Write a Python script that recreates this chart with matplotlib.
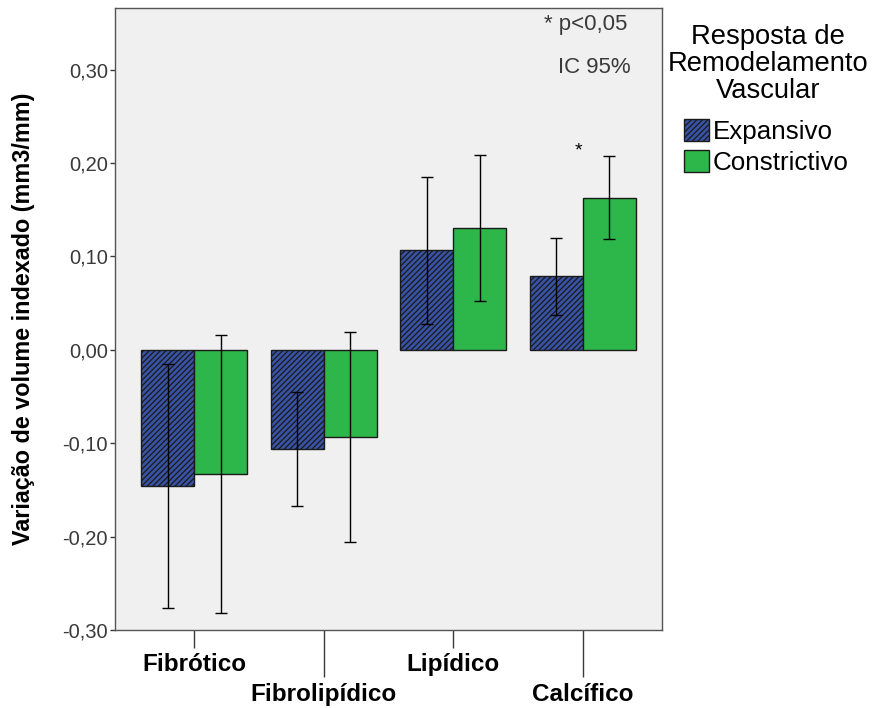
import numpy as np
import matplotlib
matplotlib.use('Agg')
import matplotlib.pyplot as plt
from matplotlib.ticker import FuncFormatter

plt.rcParams['font.family'] = ['Liberation Sans', 'DejaVu Sans']
plt.rcParams['hatch.linewidth'] = 0.9

# mean change with 95% CI, by plaque type and remodelling response
categorias = ['Fibrótico', 'Fibrolipídico', 'Lipídico', 'Calcífico']
grupos = ['Expansivo', 'Constrictivo']
media_exp = [-0.146, -0.106, 0.107, 0.079]
ic_inf_exp = [-0.276, -0.167, 0.028, 0.037]
ic_sup_exp = [-0.015, -0.045, 0.185, 0.120]
media_con = [-0.133, -0.093, 0.130, 0.163]
ic_inf_con = [-0.282, -0.206, 0.052, 0.119]
ic_sup_con = [0.016, 0.019, 0.209, 0.208]
significativo = [False, False, False, True]

cor_exp = '#3853a4'
cor_con = '#2db64a'
fundo = '#f0f0f0'
cinza = '#3a3a3a'

fig = plt.figure(figsize=(8.72, 7.08), dpi=100)
ax = fig.add_axes([0.1319, 0.1102, 0.6273, 0.8785])
ax.set_facecolor(fundo)

x = np.arange(len(categorias))
w = 0.408

def barras(pos, media, inf, sup, cor, hatch, nome):
    media = np.array(media)
    err = [media - np.array(inf), np.array(sup) - media]
    b = ax.bar(pos, media, width=w, color=cor, edgecolor='#1a1a1a',
               linewidth=1.0, hatch=hatch, label=nome, zorder=2)
    ax.errorbar(pos, media, yerr=err, fmt='none', ecolor='black',
                elinewidth=1.0, capsize=4.5, capthick=1.0, zorder=3)
    return b

barras(x - w / 2, media_exp, ic_inf_exp, ic_sup_exp, cor_exp, '//////', grupos[0])
barras(x + w / 2, media_con, ic_inf_con, ic_sup_con, cor_con, None, grupos[1])

for i, s in enumerate(significativo):
    if s:
        ax.text(x[i] - 0.035, max(ic_sup_exp[i], ic_sup_con[i]) - 0.004, '*',
                ha='center', va='bottom', fontsize=14)

ax.set_xlim(-0.612, 3.612)
ax.set_ylim(-0.30, 0.366)
ax.set_yticks([-0.30, -0.20, -0.10, 0.00, 0.10, 0.20, 0.30])
ax.yaxis.set_major_formatter(FuncFormatter(lambda v, p: f'{v:.2f}'.replace('.', ',')))
ax.tick_params(axis='y', direction='out', length=3.6, width=1, labelsize=14.5,
               color=cinza, labelcolor=cinza, pad=1.4)

# alternating category labels: two rows
ax.set_xticks(x[::2])
ax.set_xticklabels(categorias[::2], fontweight='bold', fontsize=17.5)
ax.set_xticks(x[1::2], minor=True)
ax.set_xticklabels(categorias[1::2], minor=True, fontweight='bold', fontsize=17.5)
ax.tick_params(axis='x', which='major', direction='out', length=13, width=1,
               color=cinza, pad=3.5)
ax.tick_params(axis='x', which='minor', direction='out', length=34, width=1,
               color=cinza, pad=4)

for sp in ax.spines.values():
    sp.set_color('#555555')
    sp.set_linewidth(1.0)

ax.set_ylabel('Variação de volume indexado (mm3/mm)', fontweight='bold',
              fontsize=16.8)
ax.yaxis.set_label_coords(-0.146, 0.5)

ax.text(0.937, 0.991, '* p<0,05', transform=ax.transAxes, ha='right', va='top',
        fontsize=16, color=cinza)
ax.text(0.943, 0.922, 'IC 95%', transform=ax.transAxes, ha='right', va='top',
        fontsize=16, color=cinza)

# legend title drawn apart so its spacing to the entries can be set
fig.text(0.8807, 1 - 24 / 708, 'Resposta de\nRemodelamento\nVascular',
         ha='center', va='top', multialignment='center', fontsize=19.7,
         linespacing=1.05)
leg = fig.legend(loc='upper left', bbox_to_anchor=(0.7844, 1 - 119 / 708),
                 frameon=False, fontsize=18.7,
                 handlelength=0.95, handleheight=0.95, handletextpad=0.15,
                 labelspacing=0.22, borderaxespad=0, borderpad=0)

fig.savefig('out.png', dpi=100)
